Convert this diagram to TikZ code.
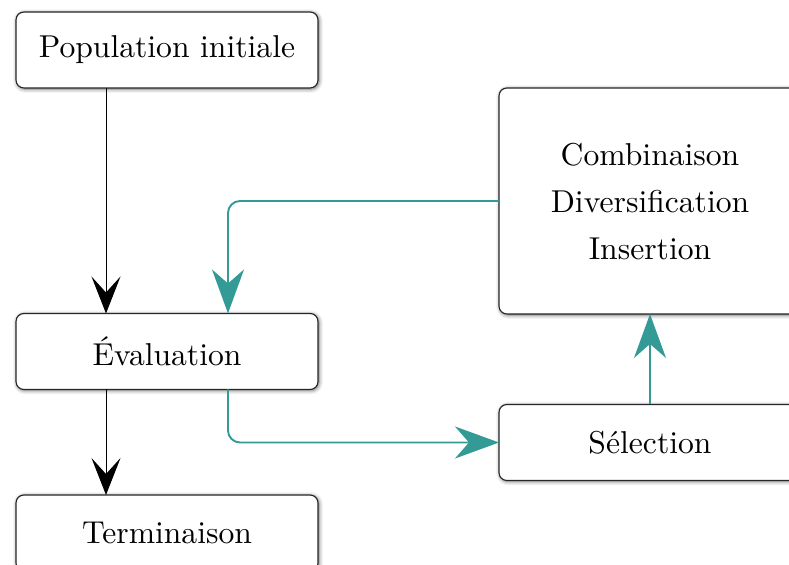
\documentclass[tikz,border=0pt]{standalone}
\usetikzlibrary{arrows.meta,shadows.blur}
\definecolor{tealflow}{RGB}{52,154,150}
\newcommand{\boxtext}[1]{\scalebox{1.8}{#1}}
\begin{document}
\begin{tikzpicture}[
  box/.style={draw=black!85, line width=0.65pt, rounded corners=4.5pt, fill=white,
    minimum width=6.04cm, minimum height=1.52cm, outer sep=0pt, align=center,
    blur shadow={shadow xshift=0.6pt, shadow yshift=-0.6pt,
    shadow blur radius=2.2pt, shadow opacity=60}},
  flow/.style={line width=0.55pt, -{Stealth[length=0.74cm, width=0.58cm, inset=0.32cm]}},
  loop/.style={tealflow, line width=1.1pt, rounded corners=0.24cm,
    -{Stealth[length=0.88cm, width=0.64cm, inset=0.28cm]}}]
\useasboundingbox (0,0) rectangle (15.78,-11.3);
\node[box] (pop) at (3.34,-1.0) {\boxtext{Population initiale}};
\node[box] (eval) at (3.34,-7.03) {\boxtext{Évaluation}};
\node[box] (term) at (3.34,-10.66) {\boxtext{Terminaison}};
\node[box, minimum height=4.52cm] (ops) at (13.0,-4.02)
  {\boxtext{\begin{tabular}{@{}c@{}}\rule{0pt}{10.9pt}Combinaison\\[2.9pt]Diversification\\[2.9pt]Insertion\end{tabular}}};
\node[box] (sel) at (13.0,-8.85) {\boxtext{Sélection}};

\draw[flow] ([xshift=-1.22cm]pop.south) -- ([xshift=-1.22cm]eval.north);
\draw[flow] ([xshift=-1.22cm]eval.south) -- ([xshift=-1.22cm]term.north);
\draw[loop] (ops.west) -| ([xshift=1.22cm]eval.north);
\draw[loop] ([xshift=1.22cm]eval.south) |- (sel.west);
\draw[loop] (sel.north) -- (ops.south);
\end{tikzpicture}
\end{document}
